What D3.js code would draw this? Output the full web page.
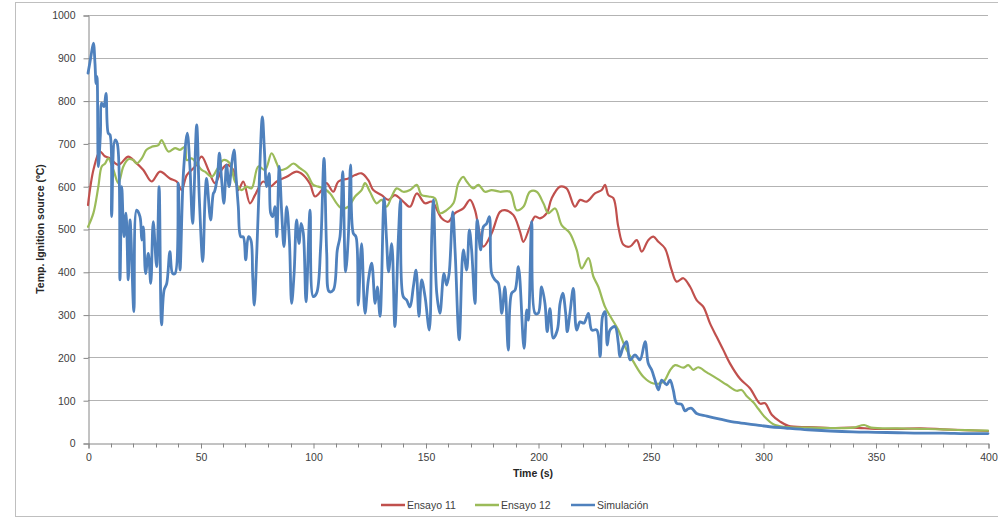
<!DOCTYPE html>
<html>
<head>
<meta charset="utf-8">
<script src="https://cdn.jsdelivr.net/npm/d3@7"></script>
<style>
html,body{margin:0;padding:0;background:#fff;}
svg{display:block;font-family:"Liberation Sans",Arial,sans-serif;}
</style>
</head>
<body>
<svg id="chart" width="998" height="519"></svg>
<script>
// ---- data ----
const seriesNames = ["Ensayo 11", "Ensayo 12", "Simulación"];
const xTicks = [0, 50, 100, 150, 200, 250, 300, 350, 400];
const yTicks = [0, 100, 200, 300, 400, 500, 600, 700, 800, 900, 1000];

const ens11T = [0,2.5,5.3,7.5,9.8,13.5,17.9,20.9,24.6,28.3,32,36.4,39.4,41.6,43.9,47.6,50.5,53.5,56.4,59.4,61.6,64.6,66.8,69,72,74.2,77.9,80.9,83.9,88.3,92.7,95.7,98.7,100.9,103.9,106,109,111.3,115.7,118.7,121.6,124.6,126.8,130.5,133.5,136.4,140.1,143.1,146.1,149.8,152.8,157.2,160.1,163.1,166.8,169.8,172,173.5,175.7,179.4,183.1,185.3,189,192,193.5,196.4,198.7,200.9,203.9,206.1,209.8,212.7,216.4,218.7,221.6,225.3,228.3,229.8,231.3,233.5,235.7,238,240.9,243.9,246.1,249,251.3,253.5,256.4,259.4,261.6,264.6,267.6,270.5,273.5,276.4,279.4,282.4,285.3,289.8,294.2,298.7,300.9,303.9,307.6,311.3,320,330,340,350,360,370,380,390,400];
const ens11V = [556,640,681,670,665,650,669,657,638,611,634,618,611,591,626,646,669,638,607,638,650,638,591,611,560,579,611,599,611,622,634,626,605,576,591,607,587,611,618,626,630,614,591,579,568,579,564,552,583,560,564,525,517,537,548,568,544,505,459,490,540,544,533,494,470,505,529,525,537,572,599,595,552,568,564,583,591,603,579,572,505,463,459,474,447,474,482,470,455,404,377,385,365,334,318,280,248,217,186,150,128,92,93,66,50,40,37,35,36,33,33,34,32,30,28];

const ens12T = [0,2.4,4.6,6.1,7.6,9,11.3,13.5,15.7,17.9,20.1,21.6,23.9,26,28.3,31.3,32.7,35.7,38.7,40.9,43.1,43.9,46.1,48.3,50.5,52,55,57.2,60.1,63.1,65.3,68.3,70.5,72.7,75.7,78.7,81.6,83.9,85.3,88.3,91.3,94.2,97.2,100.1,102.4,104.6,107.6,110.5,112.7,115.7,118.7,121.6,123.1,125.3,128.3,130.5,132.7,135,137.2,140.1,143.1,146.1,148.3,151.3,154.2,156.4,159.4,162.4,164.6,166.8,168.3,171.2,173.5,176.4,179.4,183.1,187.6,190.5,193.5,196.4,199.4,202.4,204.6,207.6,210.5,214.2,217.2,219.4,222.4,224.6,226.8,229.8,232.7,235.7,238.7,242.4,246.8,251.3,255.7,258.7,260.9,264.6,266.8,269,271.2,275,279.4,283.9,288.3,290.5,292.7,295.7,297.9,300.9,304.6,309,320,330,340,345,348,360,370,380,390,400];
const ens12V = [505,537,599,646,653,665,638,607,646,663,661,653,665,685,692,696,708,681,689,685,692,661,665,653,638,634,622,638,661,653,611,591,599,595,646,638,677,653,638,642,653,642,630,603,599,595,583,560,548,552,576,591,607,587,560,568,552,576,595,587,591,603,579,576,572,537,544,560,607,622,611,595,603,587,591,587,587,544,552,587,587,560,537,548,509,490,451,408,432,389,365,318,291,264,225,190,155,139,143,170,182,176,182,171,177,165,151,136,122,124,110,95,80,60,44,38,36,35,36,42,36,34,33,32,30,29];

const simT = [0,1.2,2.4,3.1,3.6,4,4.6,5.5,6.1,7.1,8,9,9.8,10.5,12,13,14.2,15,16,16.9,17.9,18.7,20.4,21.6,23.1,23.9,24.6,25.6,26.8,27.9,29,30.5,31.6,32.7,33.8,35,36.4,37.6,38.7,40.1,40.9,42.4,44.1,45.3,46.5,48.3,49.5,51,52,52.7,54.5,55.7,56.2,57.5,58.4,59.4,60.4,61.6,62.7,63.9,64.9,65.8,66.8,67.9,69,70.1,71.3,72.4,73.2,73.9,75,76,77.5,78.4,79.4,80.5,81.2,82.1,83.1,83.9,85,86.1,87.1,88.3,89.5,90.5,91.6,92.7,93.8,94.7,95.7,96.9,98.7,100.1,101.6,103.4,104.9,106.1,107.2,109,110.8,112,113.2,114.5,115.7,116.7,117.9,119.1,120.1,121.6,123.1,124.6,126.1,127.6,128.6,129.8,131.6,132.7,133.6,135,136.4,137.9,138.9,140.1,141.6,143.1,144.6,145.8,147.1,148.3,149.8,151.7,152.8,153.5,155,156.4,158.2,159.4,160.5,162.1,163.2,165,166.8,168.3,169.5,170.5,172,173,174.5,175.7,177.2,178.4,179.4,180.9,182.4,183.9,185.3,186.8,188.3,189.8,191.3,193.8,195,195.7,197.2,198.7,200.1,201.6,203.1,204.1,205.3,206.8,208.6,209.8,211,212.3,213,214.2,215.7,217.2,218.7,220.4,222.4,223.9,226.1,227.6,228.7,229.8,230.8,232,234.2,235.7,236.4,237.9,239.4,240.9,243.1,245.3,247.6,249,250.5,252,253.5,255,257.2,258.7,260.1,261.6,263.9,265.3,266.8,268.3,270.5,275,280.9,288.3,295.7,303,310,320,330,340,350,360,370,380,390,400];
const simV = [864,900,934,887,840,856,646,720,794,786,817,724,720,529,708,700,381,599,482,537,381,521,307,544,529,474,505,396,443,373,517,412,599,276,357,373,447,396,396,607,404,630,724,646,513,743,568,424,568,618,521,583,587,622,677,614,560,650,599,653,685,622,552,482,482,428,482,474,389,322,443,591,762,685,599,630,537,529,552,482,646,537,459,552,474,326,396,521,466,513,490,330,544,342,350,459,665,443,354,357,451,482,634,400,482,650,490,482,322,466,303,381,420,326,365,296,572,474,400,466,272,474,568,342,334,318,365,404,296,381,342,264,490,568,350,303,396,369,396,540,443,241,451,404,498,451,326,521,451,505,513,529,396,381,373,303,365,217,350,357,412,221,311,287,517,303,303,365,326,260,314,245,264,326,350,303,260,303,361,264,283,280,303,264,264,202,296,307,229,264,272,233,202,225,237,194,206,194,237,186,171,147,124,147,136,147,124,93,90,75,80,81,69,63,56,48,43,38,35,31,28,26,25,24,23,23,22,22];

const colors = ["#C0504D", "#9BBB59", "#4F81BD"];
const widths = [2.2, 2.2, 2.8];

// ---- layout ----
const svg = d3.select("#chart");
const L = 88, R = 988, T = 15, B = 443;
const x = d3.scaleLinear().domain([0, 400]).range([L, R]);
const y = d3.scaleLinear().domain([0, 1000]).range([B, T]);

// outer frame
svg.append("rect").attr("x", 15.5).attr("y", 2.5).attr("width", 1000).attr("height", 514)
  .attr("fill", "none").attr("stroke", "#bfbfbf").attr("stroke-width", 1);

// gridlines
svg.append("g").selectAll("line").data(yTicks.filter(d => d > 0)).join("line")
  .attr("x1", L).attr("x2", R)
  .attr("y1", d => Math.round(y(d)) + 0.5).attr("y2", d => Math.round(y(d)) + 0.5)
  .attr("stroke", "#b3b3b3").attr("stroke-width", 1);

// y axis
const yAxis = d3.axisLeft(y).tickValues(yTicks).tickFormat(d3.format("d")).tickSize(5).tickPadding(8);
const gy = svg.append("g").attr("transform", `translate(${L + 0.5},0.5)`).call(yAxis);
gy.select(".domain").attr("stroke", "#868686");
gy.selectAll(".tick line").attr("stroke", "#868686");
gy.selectAll(".tick text").attr("fill", "#404040").style("font-size", "10.5px");

// x axis (major every 50, minor every 10)
const xAxis = d3.axisBottom(x).tickValues(xTicks).tickFormat(d3.format("d")).tickSize(5).tickPadding(5);
const gx = svg.append("g").attr("transform", `translate(0.5,${B + 0.5})`).call(xAxis);
gx.select(".domain").attr("stroke", "#868686");
gx.selectAll(".tick line").attr("stroke", "#868686");
gx.selectAll(".tick text").attr("fill", "#404040").style("font-size", "10.5px");
const minor = d3.range(0, 401, 10).filter(d => d % 50 !== 0);
gx.append("g").selectAll("line").data(minor).join("line")
  .attr("x1", d => Math.round(x(d))).attr("x2", d => Math.round(x(d)))
  .attr("y1", 0).attr("y2", 4).attr("stroke", "#868686");

// axis titles
svg.append("text").attr("x", (L + R) / 2 - 5).attr("y", 477).attr("text-anchor", "middle")
  .style("font-size", "10.5px").style("font-weight", "bold").attr("fill", "#262626").text("Time (s)");
svg.append("text").attr("transform", `translate(44,${(T + B) / 2}) rotate(-90)`).attr("text-anchor", "middle")
  .style("font-size", "10.5px").style("font-weight", "bold").attr("fill", "#262626").text("Temp. Ignition source (ºC)");

// lines
const series = [
  {name: seriesNames[0], t: ens11T, v: ens11V},
  {name: seriesNames[1], t: ens12T, v: ens12V},
  {name: seriesNames[2], t: simT, v: simV}
];
const line = d3.line().x(d => x(d[0])).y(d => y(d[1])).curve(d3.curveCatmullRom.alpha(0.5));
const plot = svg.append("g");
series.forEach((s, i) => {
  plot.append("path").datum(s.t.map((t, k) => [t, s.v[k]]))
    .attr("d", line).attr("fill", "none").attr("stroke", colors[i])
    .attr("stroke-width", widths[i]).attr("stroke-linejoin", "round").attr("stroke-linecap", "round");
});

// legend
const legendX = [381, 475, 571];
const lg = svg.append("g");
series.forEach((s, i) => {
  lg.append("line").attr("x1", legendX[i]).attr("x2", legendX[i] + 24).attr("y1", 505).attr("y2", 505)
    .attr("stroke", colors[i]).attr("stroke-width", 2.5);
  lg.append("text").attr("x", legendX[i] + 26).attr("y", 509).style("font-size", "10.5px")
    .attr("fill", "#404040").text(s.name);
});
</script>
</body>
</html>
